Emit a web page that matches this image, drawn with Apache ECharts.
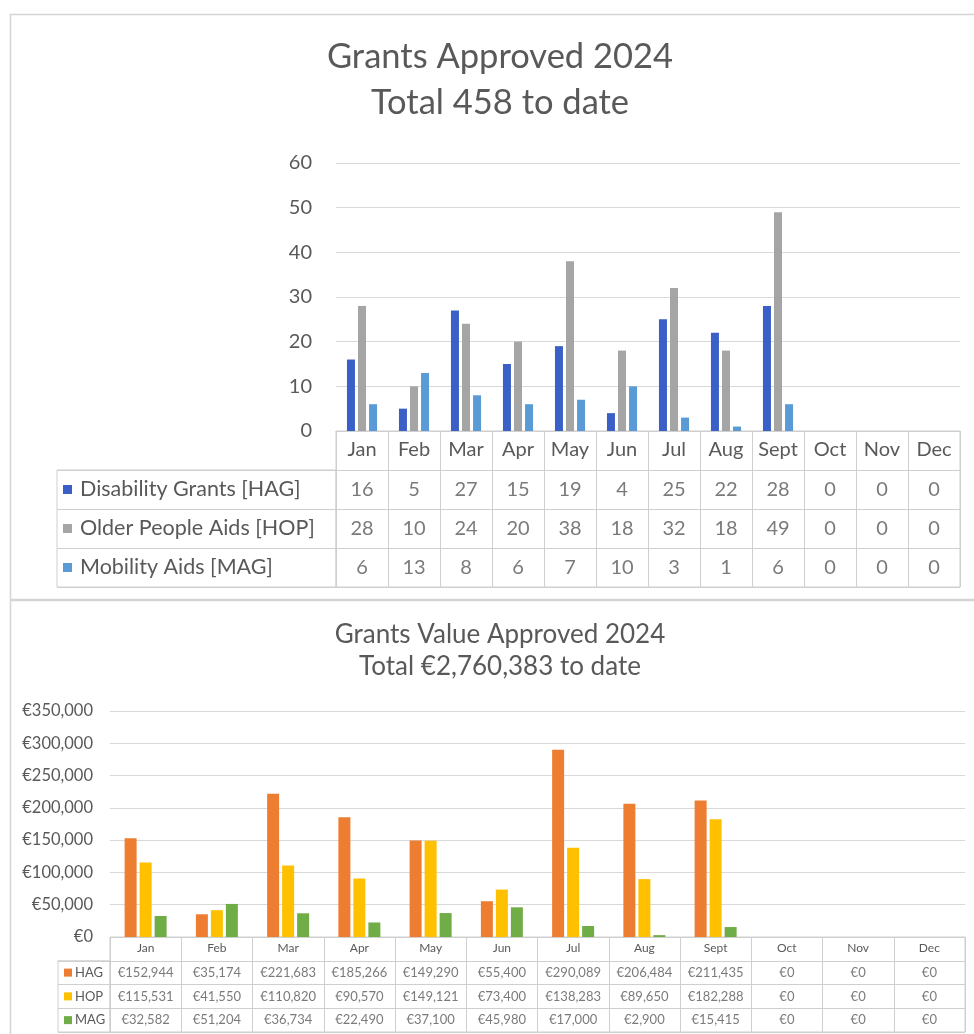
<!DOCTYPE html>
<html>
<head>
<meta charset="utf-8">
<script src="https://cdn.jsdelivr.net/npm/echarts@6.0.0/dist/echarts.min.js"></script>
<style>
  html, body { margin: 0; padding: 0; background: #fff; }
  #chart { width: 974px; height: 1034px; }
</style>
</head>
<body>
<div id="chart"></div>
<script>
// ---- data ----
var months = ['Jan', 'Feb', 'Mar', 'Apr', 'May', 'Jun', 'Jul', 'Aug', 'Sept', 'Oct', 'Nov', 'Dec'];

var countTitle = 'Grants Approved 2024\nTotal 458 to date';
var countNames = ['Disability Grants [HAG]', 'Older People Aids [HOP]', 'Mobility Aids [MAG]'];
var countHag = [16, 5, 27, 15, 19, 4, 25, 22, 28, 0, 0, 0];
var countHop = [28, 10, 24, 20, 38, 18, 32, 18, 49, 0, 0, 0];
var countMag = [6, 13, 8, 6, 7, 10, 3, 1, 6, 0, 0, 0];
var countMax = 60, countStep = 10;

var valueTitle = 'Grants Value Approved 2024\nTotal €2,760,383 to date';
var valueNames = ['HAG', 'HOP', 'MAG'];
var valueHag = [152944, 35174, 221683, 185266, 149290, 55400, 290089, 206484, 211435, 0, 0, 0];
var valueHop = [115531, 41550, 110820, 90570, 149121, 73400, 138283, 89650, 182288, 0, 0, 0];
var valueMag = [32582, 51204, 36734, 22490, 37100, 45980, 17000, 2900, 15415, 0, 0, 0];
var valueMax = 350000, valueStep = 50000;

// ---- style ----
var FONT = 'Lato, "Open Sans", sans-serif';
var TEXT = '#595959';
var GRID_LINE = '#d9d9d9';
var CELL_LINE = '#cfcfcf';

function euro(v) { return '€' + v.toLocaleString('en-US'); }
function plain(v) { return String(v); }

var blocks = [
  {
    names: countNames, series: [countHag, countHop, countMag],
    colors: ['#3a5fc6', '#a5a5a5', '#5b9bd5'],
    max: countMax, step: countStep, fmt: plain,
    left: 336, right: 960, plotTop: 163, axisY: 431, tableBottom: 587, legendLeft: 57,
    barWidth: 8, barGap: '38%',
    axisFont: 20, axisMargin: 24, headFont: 20, headMargin: 9,
    cellFont: 20, legendFont: 21.5, square: 9, textGap: 8
  },
  {
    names: valueNames, series: [valueHag, valueHop, valueMag],
    colors: ['#ed7d31', '#ffc000', '#70ad47'],
    max: valueMax, step: valueStep, fmt: euro,
    left: 110, right: 965, plotTop: 711, axisY: 937, tableBottom: 1032, legendLeft: 58,
    barWidth: 12, barGap: '25%',
    axisFont: 16.5, axisMargin: 17, headFont: 12, headMargin: 5,
    cellFont: 13, legendFont: 13, square: 8, textGap: 3
  }
];

var grid = [], xAxis = [], yAxis = [], series = [];

blocks.forEach(function (b, k) {
  var g = k * 3;
  var rowH = (b.tableBottom - b.axisY) / 4;
  var noAxis = { axisLine: { show: false }, axisTick: { show: false }, axisLabel: { show: false } };

  // bar chart
  grid.push({ left: b.left, top: b.plotTop, width: b.right - b.left, height: b.axisY - b.plotTop, outerBoundsMode: 'none' });
  xAxis.push({
    type: 'category', gridIndex: g, data: months,
    axisLine: { lineStyle: { color: CELL_LINE } }, axisTick: { show: false },
    axisLabel: { interval: 0, color: TEXT, fontFamily: FONT, fontSize: b.headFont, margin: b.headMargin },
    splitLine: { show: false }
  });
  yAxis.push({
    type: 'value', gridIndex: g, min: 0, max: b.max, interval: b.step,
    axisLine: { show: false }, axisTick: { show: false },
    axisLabel: { color: TEXT, fontFamily: FONT, fontSize: b.axisFont, margin: b.axisMargin, formatter: b.fmt },
    splitLine: { lineStyle: { color: GRID_LINE, width: 1 } }
  });

  // data table cells
  grid.push({ left: b.left, top: b.axisY, width: b.right - b.left, height: b.tableBottom - b.axisY,
    show: true, borderColor: CELL_LINE, borderWidth: 1, outerBoundsMode: 'none' });
  xAxis.push(Object.assign({ type: 'category', gridIndex: g + 1, data: months,
    splitLine: { show: true, interval: 0, lineStyle: { color: CELL_LINE } } }, noAxis));
  yAxis.push(Object.assign({ type: 'category', gridIndex: g + 1, inverse: true, data: [''].concat(b.names),
    splitLine: { show: true, interval: 0, lineStyle: { color: CELL_LINE } } }, noAxis));

  // legend column of the table
  var rich = {};
  b.colors.forEach(function (c, i) {
    rich['s' + i] = { width: b.square, height: b.square, backgroundColor: c };
  });
  rich.t = { color: TEXT, fontFamily: FONT, fontSize: b.legendFont, padding: [0, 0, 0, b.textGap] };
  grid.push({ left: b.legendLeft, top: b.axisY + rowH, width: b.left - b.legendLeft, height: b.tableBottom - b.axisY - rowH,
    show: true, borderColor: CELL_LINE, borderWidth: 1, outerBoundsMode: 'none' });
  xAxis.push(Object.assign({ type: 'category', gridIndex: g + 2, data: [''], splitLine: { show: false } }, noAxis));
  yAxis.push({
    type: 'category', gridIndex: g + 2, inverse: true, data: b.names,
    axisLine: { show: false }, axisTick: { show: false },
    axisLabel: { inside: true, margin: 6, formatter: function (v, i) { return '{s' + i + '|}{t|' + v + '}'; }, rich: rich },
    splitLine: { show: true, interval: 0, lineStyle: { color: CELL_LINE } }
  });

  b.series.forEach(function (vals, i) {
    series.push({
      type: 'bar', name: b.names[i], xAxisIndex: g, yAxisIndex: g, data: vals,
      barWidth: b.barWidth, barGap: b.barGap, itemStyle: { color: b.colors[i] }, silent: true
    });
  });
  b.series.forEach(function (vals, i) {
    series.push({
      type: 'scatter', xAxisIndex: g + 1, yAxisIndex: g + 1, symbolSize: 1,
      itemStyle: { color: 'rgba(0,0,0,0)' }, silent: true,
      data: vals.map(function (v, m) { return [m, i + 1, v]; }),
      label: { show: true, position: 'inside', color: TEXT, fontFamily: FONT, fontSize: b.cellFont,
        formatter: function (p) { return b.fmt(p.value[2]); } }
    });
  });
});

var chart = echarts.init(document.getElementById('chart'), null, { renderer: 'canvas' });
chart.setOption({
  animation: false,
  backgroundColor: '#fff',
  title: [
    { text: countTitle, left: 500, top: 34, textAlign: 'center', padding: 0,
      textStyle: { fontFamily: FONT, fontSize: 34.5, fontWeight: 'normal', color: TEXT, lineHeight: 46 } },
    { text: valueTitle, left: 500, top: 619, textAlign: 'center', padding: 0,
      textStyle: { fontFamily: FONT, fontSize: 26, fontWeight: 'normal', color: TEXT, lineHeight: 32 } }
  ],
  graphic: [
    { type: 'rect', z: -10, silent: true, shape: { x: 10.5, y: 14.5, width: 990, height: 585 },
      style: { fill: '#fff', stroke: '#d4d4d4', lineWidth: 1.5 } },
    { type: 'rect', z: -10, silent: true, shape: { x: 10.5, y: 600.5, width: 990, height: 460 },
      style: { fill: '#fff', stroke: '#d4d4d4', lineWidth: 1.5 } }
  ],
  grid: grid,
  xAxis: xAxis,
  yAxis: yAxis,
  series: series
});
</script>
</body>
</html>
